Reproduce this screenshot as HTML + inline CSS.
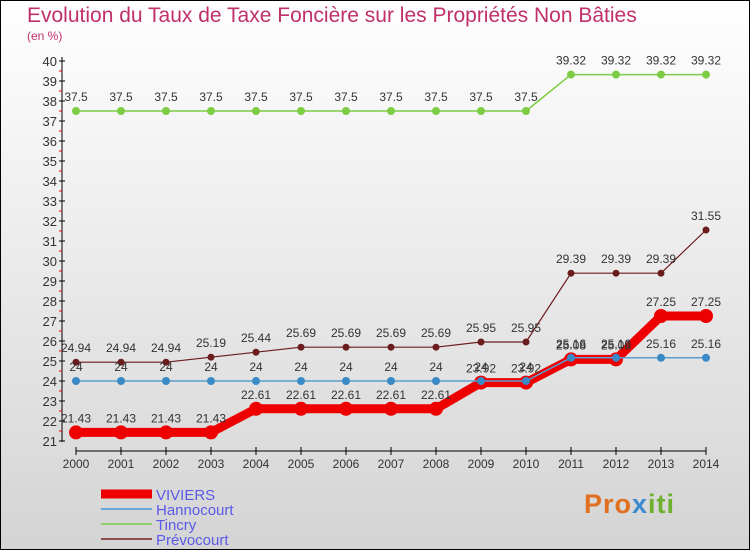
<!DOCTYPE html>
<html><head><meta charset="utf-8"><style>
body{margin:0}
#c{width:748px;height:548px;border:1px solid #000;background:linear-gradient(#fff,#d4d4d4);position:relative;font-family:"Liberation Sans",sans-serif;overflow:hidden}
.t{position:absolute;color:#c0306a}
</style></head><body>
<div id="c">
<div class="t" style="left:26px;top:3px;font-size:21px">Evolution du Taux de Taxe Foncière sur les Propriétés Non Bâties</div>
<div class="t" style="left:26px;top:28px;font-size:12px">(en %)</div>
<svg id="s" width="750" height="550" style="position:absolute;left:0;top:0"></svg>
<div style="position:absolute;left:583px;top:488px;font-size:27px;font-weight:bold;letter-spacing:1px"><span style="color:#e07020">Pro</span><span style="color:#3a8ad0">x</span><span style="color:#70b030">iti</span></div>
</div>
<script>
const years=[2000,2001,2002,2003,2004,2005,2006,2007,2008,2009,2010,2011,2012,2013,2014];
const viviers=[21.43,21.43,21.43,21.43,22.61,22.61,22.61,22.61,22.61,23.92,23.92,25.08,25.08,27.25,27.25];
const hannocourt=[24,24,24,24,24,24,24,24,24,24,24,25.16,25.16,25.16,25.16];
const tincry=[37.5,37.5,37.5,37.5,37.5,37.5,37.5,37.5,37.5,37.5,37.5,39.32,39.32,39.32,39.32];
const prevocourt=[24.94,24.94,24.94,25.19,25.44,25.69,25.69,25.69,25.69,25.95,25.95,29.39,29.39,29.39,31.55];
const yTicks=[21,22,23,24,25,26,27,28,29,30,31,32,33,34,35,36,37,38,39,40];
const NS='http://www.w3.org/2000/svg',svg=document.getElementById('s');
const X=i=>75+i*45, Y=v=>440-(v-21)*20;
function mk(t,a,p){const e=document.createElementNS(NS,t);for(const k in a)e.setAttribute(k,a[k]);(p||svg).appendChild(e);return e;}
let ax=mk('line',{x1:61,y1:56,x2:61,y2:441,stroke:'#000'});

let bx=mk('line',{x1:75,y1:450,x2:705,y2:450,stroke:'#000'});

yTicks.forEach(v=>{mk('line',{x1:58,y1:Y(v),x2:64,y2:Y(v),stroke:'#000'});
 if(v<40)mk('line',{x1:58,y1:Y(v+0.5),x2:61,y2:Y(v+0.5),stroke:'#e00'});
 const t=mk('text',{x:56,y:Y(v)+5,'text-anchor':'end','font-size':13,fill:'#333'});t.textContent=v;
 });
years.forEach((y,i)=>{mk('line',{x1:X(i),y1:446,x2:X(i),y2:454,stroke:'#000'});
 const t=mk('text',{x:X(i),y:467,'text-anchor':'middle','font-size':12,fill:'#333'});t.textContent=y;
 });
function series(d,col,w,r,dot,name){
 const g=mk('g',{});
 mk('polyline',{points:d.map((v,i)=>X(i)+','+Y(v)).join(' '),fill:'none',stroke:col,'stroke-width':w,'stroke-linejoin':'round'},g);
 d.forEach((v,i)=>{const c=mk('circle',{cx:X(i),cy:Y(v),r:r,fill:dot},g);
  
  const t=mk('text',{x:X(i),y:Y(v)-10,'text-anchor':'middle','font-size':12,fill:'#333'},g);t.textContent=v;});
}
series(tincry,'#7ccc44',1.5,4,'#7ccc44','tincry');
series(prevocourt,'#6b1c1c',1.2,3.5,'#6b1c1c','prevocourt');
series(viviers,'#ee0000',9,7,'#ee0000','viviers');
series(hannocourt,'#5b9ed0',1.5,4,'#3a8ac8','hannocourt');
const legend=[['VIVIERS','#ee0000',9],['Hannocourt','#6aa8d8',2],['Tincry','#90d070',2],['Prévocourt','#8a5050',2]];
legend.forEach((l,i)=>{const y=493+i*15;
 const g=mk('g',{});
 mk('line',{x1:100,y1:y,x2:151,y2:y,stroke:l[1],'stroke-width':l[2]},g);
 const t=mk('text',{x:155,y:y+6,'font-size':15,fill:'#5a5ae8'},g);t.textContent=l[0];});
</script>
</body></html>
